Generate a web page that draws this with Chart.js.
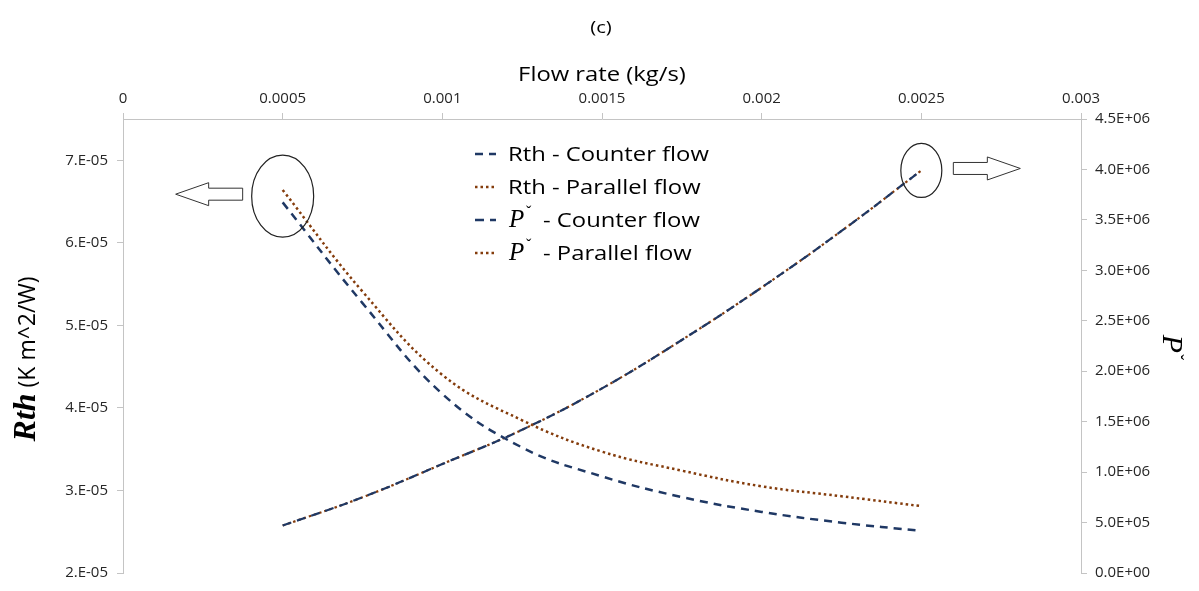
<!DOCTYPE html>
<html>
<head>
<meta charset="utf-8">
<script src="https://cdn.jsdelivr.net/npm/chart.js@4.4.0/dist/chart.umd.min.js"></script>
<style>
  html, body { margin: 0; padding: 0; background: #fff; }
</style>
</head>
<body>
<canvas id="chart" width="1199" height="591"></canvas>
<script>
// Flow rate (kg/s)
const flowRate = [0.0005, 0.00075, 0.001, 0.00125, 0.0015, 0.00175, 0.002, 0.00225, 0.0025];

// Thermal resistance Rth (K m^2/W)
const rthCounter  = [6.49e-5, 5.27e-5, 4.17e-5, 3.52e-5, 3.17e-5, 2.92e-5, 2.74e-5, 2.61e-5, 2.51e-5];
const rthParallel = [6.64e-5, 5.41e-5, 4.40e-5, 3.85e-5, 3.47e-5, 3.24e-5, 3.05e-5, 2.93e-5, 2.81e-5];

// Pumping power (secondary axis)
const pCounter  = [0.47e6, 0.75e6, 1.08e6, 1.42e6, 1.83e6, 2.31e6, 2.83e6, 3.39e6, 3.99e6];
const pParallel = [0.47e6, 0.75e6, 1.08e6, 1.42e6, 1.83e6, 2.31e6, 2.83e6, 3.39e6, 3.99e6];

// Axis ticks
const xTickValues = [0, 0.0005, 0.001, 0.0015, 0.002, 0.0025, 0.003];
const xTickLabels = ["0", "0.0005", "0.001", "0.0015", "0.002", "0.0025", "0.003"];
const rthTickValues = [2e-5, 3e-5, 4e-5, 5e-5, 6e-5, 7e-5];
const rthTickLabels = ["2.E-05", "3.E-05", "4.E-05", "5.E-05", "6.E-05", "7.E-05"];
const pTickValues = [0, 5e5, 1e6, 1.5e6, 2e6, 2.5e6, 3e6, 3.5e6, 4e6, 4.5e6];
const pTickLabels = ["0.0E+00", "5.0E+05", "1.0E+06", "1.5E+06", "2.0E+06", "2.5E+06", "3.0E+06", "3.5E+06", "4.0E+06", "4.5E+06"];

const legendNames = ["Rth - Counter flow", "Rth - Parallel flow", "P - Counter flow", "P - Parallel flow"];

const NAVY = "#1F3864";
const BROWN = "#843C0C";
const SANS = "'Open Sans', 'Noto Sans', sans-serif";
const SERIF = "'Liberation Serif', 'DejaVu Serif', serif";
const AXIS = "#c4c4c4";
const TEXT = "#262626";
const WIDE = 1.19; // horizontal stretch of the hand-drawn labels

const pts = (ys) => flowRate.map((x, i) => ({ x: x, y: ys[i] }));

function series(label, ys, axis, color, dash, width, order) {
    return {
        label: label,
        data: pts(ys),
        yAxisID: axis,
        borderColor: color,
        borderDash: dash,
        borderWidth: width,
        borderCapStyle: "butt",
        pointRadius: 0,
        fill: false,
        tension: 0.4,
        order: order
    };
}

// text drawn a little wider than the font's own proportions
function wideText(ctx, text, x, y, font, align) {
    ctx.save();
    ctx.font = font;
    const w = ctx.measureText(text).width * WIDE;
    let x0 = x;
    if (align === "center") x0 = x - w / 2;
    ctx.translate(x0, y);
    ctx.scale(WIDE, 1);
    ctx.textAlign = "left";
    ctx.fillText(text, 0, 0);
    ctx.restore();
    return w;
}

// Ellipses, arrows, titles and the legend
const overlay = {
    id: "overlay",
    afterDraw(chart) {
        const ctx = chart.ctx;
        const x = chart.scales.x, yL = chart.scales.y, yR = chart.scales.y2;
        ctx.save();

        // ellipse round the first Rth points, arrow pointing to the left axis
        const lx = x.getPixelForValue(flowRate[0]);
        const ly = (yL.getPixelForValue(rthCounter[0]) + yL.getPixelForValue(rthParallel[0])) / 2;
        ellipse(ctx, lx, ly, 31, 41);
        arrow(ctx, lx - 40, lx - 107, ly - 2);

        // ellipse round the last pressure point, arrow pointing to the right axis
        const n = flowRate.length - 1;
        const rx = x.getPixelForValue(flowRate[n]);
        const ry = yR.getPixelForValue(pCounter[n]);
        ellipse(ctx, rx, ry, 20.5, 27);
        arrow(ctx, rx + 32, rx + 99, ry - 2);

        ctx.fillStyle = "#000";
        ctx.textBaseline = "middle";
        wideText(ctx, "(c)", 601, 28, "17px " + SANS, "center");
        wideText(ctx, "Flow rate (kg/s)", (x.left + x.right) / 2, 75, "20px " + SANS, "center");

        // left axis title
        ctx.save();
        ctx.translate(35, 359);
        ctx.rotate(-Math.PI / 2);
        ctx.textAlign = "left";
        ctx.textBaseline = "alphabetic";
        const f1 = "italic bold 32px " + SERIF;
        const f2 = "23px " + SANS;
        ctx.font = f1;
        const w1 = ctx.measureText("Rth").width;
        ctx.font = f2;
        const w2 = ctx.measureText(" (K m^2/W)").width;
        const sx = -(w1 + w2) / 2;
        ctx.font = f1;
        ctx.fillText("Rth", sx, 0);
        ctx.font = f2;
        ctx.fillText(" (K m^2/W)", sx + w1, 0);
        ctx.restore();

        // right axis title
        ctx.save();
        ctx.translate(1163, 348);
        ctx.rotate(Math.PI / 2);
        ctx.textBaseline = "alphabetic";
        ctx.textAlign = "left";
        ctx.font = "italic 30px " + SERIF;
        const wp = ctx.measureText("P").width;
        ctx.fillText("P", -wp / 2 - 4, 0);
        ctx.font = "18px " + SERIF;
        ctx.fillText("\u02C7", wp / 2 - 3, -8);
        ctx.restore();

        // legend
        chart.data.datasets.forEach((ds, i) => {
            const yy = 154 + i * 33;
            ctx.save();
            ctx.strokeStyle = ds.borderColor;
            ctx.lineWidth = 2.5;
            ctx.setLineDash(ds.borderDash);
            ctx.beginPath();
            ctx.moveTo(475, yy);
            ctx.lineTo(496, yy);
            ctx.stroke();
            ctx.restore();

            const name = legendNames[i];
            ctx.textBaseline = "alphabetic";
            const base = yy + 7;
            if (name.startsWith("P")) {
                ctx.textAlign = "left";
                ctx.font = "italic 25px " + SERIF;
                ctx.fillText("P", 509, base);
                ctx.font = "16px " + SERIF;
                ctx.fillText("\u02C7", 526, base - 10);
                wideText(ctx, name.slice(2), 543, base, "20px " + SANS, "left");
            } else {
                wideText(ctx, name, 508, base, "20px " + SANS, "left");
            }
        });

        ctx.restore();
    }
};

function ellipse(ctx, cx, cy, rx, ry) {
    ctx.beginPath();
    ctx.ellipse(cx, cy, rx, ry, 0, 0, Math.PI * 2);
    ctx.strokeStyle = "#222";
    ctx.lineWidth = 1.2;
    ctx.stroke();
}

// block arrow from x0 (tail) to x1 (tip)
function arrow(ctx, x0, x1, cy) {
    const dir = Math.sign(x1 - x0);
    const headLen = 33, headH = 11.5, shaftH = 6;
    const xb = x1 - dir * headLen;
    ctx.beginPath();
    ctx.moveTo(x0, cy - shaftH);
    ctx.lineTo(xb, cy - shaftH);
    ctx.lineTo(xb, cy - headH);
    ctx.lineTo(x1, cy);
    ctx.lineTo(xb, cy + headH);
    ctx.lineTo(xb, cy + shaftH);
    ctx.lineTo(x0, cy + shaftH);
    ctx.closePath();
    ctx.fillStyle = "#fff";
    ctx.fill();
    ctx.strokeStyle = "#333";
    ctx.lineWidth = 1;
    ctx.stroke();
}

const axisGrid = { drawOnChartArea: false, tickLength: 6, color: AXIS };
const axisBorder = { color: AXIS, width: 1 };
const tickFont = { family: SANS, size: 15 };

new Chart(document.getElementById("chart"), {
    type: "line",
    data: {
        datasets: [
            series(legendNames[0], rthCounter, "y", NAVY, [8, 6], 2.5, 2),
            series(legendNames[1], rthParallel, "y", BROWN, [2.5, 3], 2.5, 1),
            series(legendNames[2], pCounter, "y2", NAVY, [9, 6], 2.2, 3),
            series(legendNames[3], pParallel, "y2", BROWN, [2.5, 3], 2.2, 4)
        ]
    },
    options: {
        responsive: false,
        animation: false,
        devicePixelRatio: 1,
        layout: { padding: { top: 0, bottom: 10, left: 0, right: 0 } },
        plugins: { legend: { display: false }, tooltip: { enabled: false } },
        scales: {
            x: {
                type: "linear",
                position: "top",
                min: 0,
                max: 0.003,
                afterBuildTicks: (s) => { s.ticks = xTickValues.map(v => ({ value: v })); },
                afterFit: (s) => { s.height = 119; },
                ticks: {
                    callback: (v, i) => xTickLabels[i],
                    font: tickFont,
                    color: TEXT,
                    padding: 5,
                    maxRotation: 0,
                    autoSkip: false
                },
                grid: axisGrid,
                border: axisBorder
            },
            y: {
                type: "linear",
                position: "left",
                min: 2e-5,
                max: 7.5e-5,
                afterBuildTicks: (s) => { s.ticks = rthTickValues.map(v => ({ value: v })); },
                afterFit: (s) => { s.width = 123; },
                ticks: {
                    callback: (v, i) => rthTickLabels[i],
                    font: tickFont,
                    color: TEXT,
                    padding: 9
                },
                grid: axisGrid,
                border: axisBorder
            },
            y2: {
                type: "linear",
                position: "right",
                min: 0,
                max: 4.5e6,
                afterBuildTicks: (s) => { s.ticks = pTickValues.map(v => ({ value: v })); },
                afterFit: (s) => { s.width = 118; },
                ticks: {
                    callback: (v, i) => pTickLabels[i],
                    font: tickFont,
                    color: TEXT,
                    padding: 8
                },
                grid: axisGrid,
                border: axisBorder
            }
        }
    },
    plugins: [overlay]
});
</script>
</body>
</html>
